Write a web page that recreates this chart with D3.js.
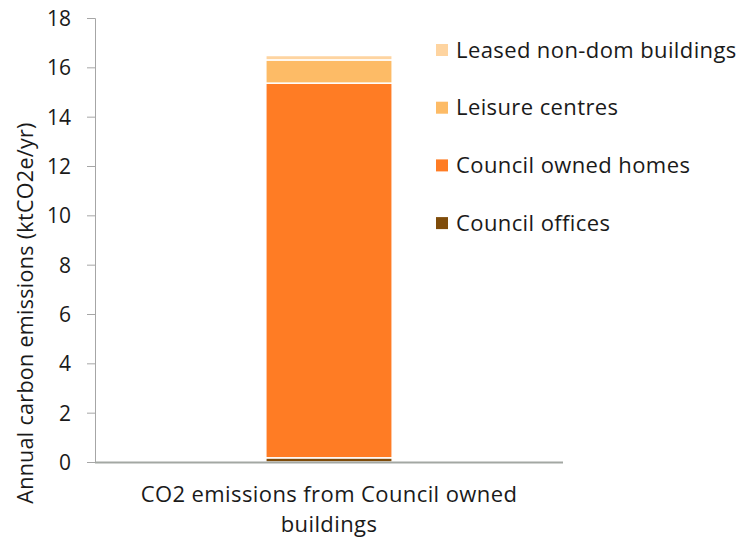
<!DOCTYPE html>
<html><head><meta charset="utf-8">
<script src="https://cdn.jsdelivr.net/npm/d3@7"></script>
<style>body{margin:0;background:#fff;} text{font-family:"Open Sans","Noto Sans",sans-serif;fill:#1a1a1a;}</style>
</head><body>
<svg id="c" width="745" height="541"></svg>
<script>
const categories = ["CO2 emissions from Council owned buildings"];
const seriesNames = ["Council offices","Council owned homes","Leisure centres","Leased non-dom buildings"];
const seriesValues = {
  "Council offices": [0.17],
  "Council owned homes": [15.19],
  "Leisure centres": [0.94],
  "Leased non-dom buildings": [0.18]
};
const seriesColors = ["#7f4c0a","#ff7c24","#fdbb66","#fed4a0"];
const yTicks = [0,2,4,6,8,10,12,14,16,18];

const svg = d3.select("#c");
const L=95,R=563,T=18,B=462;
const x = d3.scaleBand().domain(categories).range([L,R]).paddingInner(0.73).paddingOuter(0.365);
const y = d3.scaleLinear().domain([0,18]).range([B,T]);

const rows = categories.map((c,i)=>{const o={cat:c}; seriesNames.forEach(s=>o[s]=seriesValues[s][i]); return o;});
const stack = d3.stack().keys(seriesNames)(rows);

svg.append("g").selectAll("g").data(stack).join("g")
  .attr("fill",(d,i)=>seriesColors[i])
  .selectAll("rect").data(d=>d).join("rect")
  .attr("x",d=>x(d.data.cat)).attr("width",x.bandwidth())
  .attr("y",d=>y(d[1])).attr("height",d=>y(d[0])-y(d[1]))
  .attr("stroke","#fff").attr("stroke-width",1.5);

// y axis
const ya = svg.append("g").attr("transform",`translate(${L},0)`)
  .call(d3.axisLeft(y).tickValues(yTicks).tickSize(8).tickPadding(16));
ya.select(".domain").attr("stroke","#a6a6a6").attr("d",`M-8,${T}.5H0.5V${B}`);
ya.selectAll(".tick line").attr("stroke","#a6a6a6");
ya.selectAll(".tick text").style("font-size","21px").attr("fill","#1a1a1a")
  .style("font-family","'Open Sans',sans-serif").attr("dy","0.36em");

// baseline
svg.append("line").attr("x1",L).attr("x2",R).attr("y1",y(0)+0.5).attr("y2",y(0)+0.5)
  .attr("stroke","#a3a8a3").attr("stroke-width",2);

// x label
const xl = svg.append("text").attr("text-anchor","middle").style("font-size","22px").style("letter-spacing","0.4px");
const cx = x(categories[0])+x.bandwidth()/2;
xl.append("tspan").attr("x",cx).attr("y",502).text("CO2 emissions from Council owned");
xl.append("tspan").attr("x",cx).attr("y",532).text("buildings");

// y title
svg.append("text").attr("transform","translate(33,313) rotate(-90)").attr("text-anchor","middle")
  .style("font-size","21.5px").style("letter-spacing","0.3px").text("Annual carbon emissions (ktCO2e/yr)");

// legend
const leg = svg.append("g");
const legOrder = seriesNames.slice().reverse();
legOrder.forEach((s,i)=>{
  const cy = 50 + i*57.7;
  leg.append("rect").attr("x",436).attr("y",cy-6).attr("width",12).attr("height",12)
    .attr("fill",seriesColors[seriesNames.indexOf(s)]);
  leg.append("text").attr("x",456).attr("y",cy+7.5).style("font-size","22px").style("letter-spacing","0.4px").text(s);
});
</script>
</body></html>
